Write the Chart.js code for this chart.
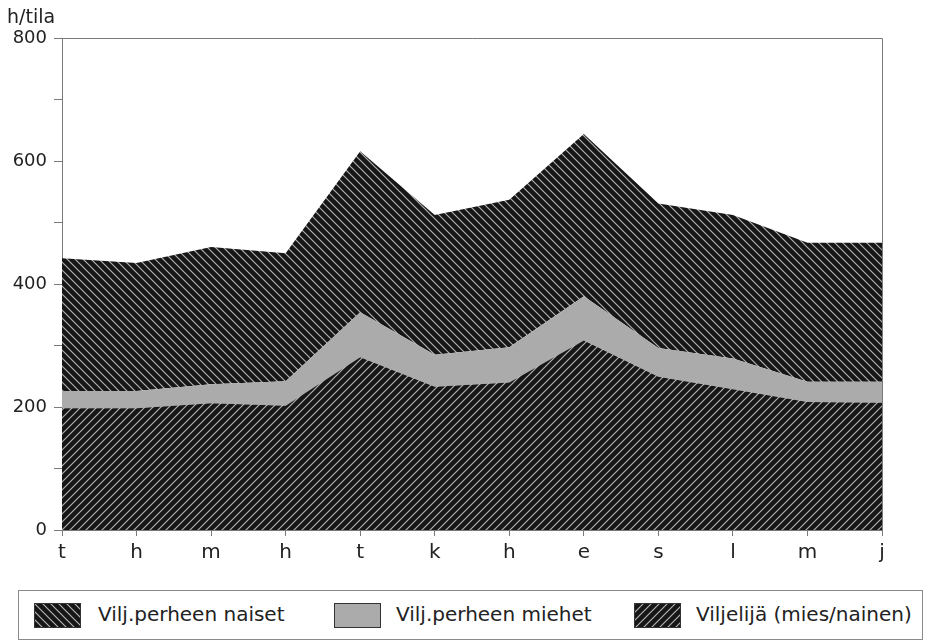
<!DOCTYPE html>
<html>
<head>
<meta charset="utf-8">
<script src="https://cdn.jsdelivr.net/npm/chart.js"></script>
<style>
  html, body { margin: 0; padding: 0; background: #fff; }
  body { width: 931px; height: 641px; position: relative; overflow: hidden; font-family: "DejaVu Sans", sans-serif; }
  .chartBox { position: absolute; left: 0; top: 0; width: 931px; height: 585px; }
  .legend { position: absolute; left: 18px; top: 590px; width: 903px; height: 48px; border: 1px solid #8a8a8a; }
  .swatch { position: absolute; top: 12px; width: 45px; height: 23px; border: 1px solid #333; }
  .label { position: absolute; top: 11px; font-size: 20px; color: #222; white-space: nowrap; }
</style>
</head>
<body>
<div class="chartBox"><canvas id="areaChart" width="931" height="585"></canvas></div>
<div class="legend">
  <div class="swatch" id="sw0" style="left:15px"></div><div class="label" style="left:79px">Vilj.perheen naiset</div>
  <div class="swatch" id="sw1" style="left:315px"></div><div class="label" style="left:377px">Vilj.perheen miehet</div>
  <div class="swatch" id="sw2" style="left:615px"></div><div class="label" style="left:677px">Viljelijä (mies/nainen)</div>
</div>
<script>
const categories = ['t', 'h', 'm', 'h', 't', 'k', 'h', 'e', 's', 'l', 'm', 'j'];
// tunnit per tila, pinottuna alhaalta ylös
const viljelija = [198, 198, 206, 202, 281, 233, 240, 308, 249, 229, 208, 207];
const miehet = [28, 28, 31, 40, 73, 52, 57, 72, 47, 50, 33, 34];
const naiset = [216, 208, 223, 208, 262, 227, 240, 264, 235, 233, 226, 226];
const yMax = 800;
const yStep = 100;
const yLabelEvery = 200;

const GREY = '#ababab';
const AXIS = '#7a7a7a';

// viivoitus kuvioksi
function hatchCanvas(dir) {
  const s = 8;
  const c = document.createElement('canvas');
  c.width = s; c.height = s;
  const g = c.getContext('2d');
  g.fillStyle = '#161616';
  g.fillRect(0, 0, s, s);
  g.strokeStyle = '#b2b2b2';
  g.lineWidth = 1.2;
  g.beginPath();
  if (dir === '/') {
    g.moveTo(0, s); g.lineTo(s, 0);
    g.moveTo(-2, 2); g.lineTo(2, -2);
    g.moveTo(s - 2, s + 2); g.lineTo(s + 2, s - 2);
  } else {
    g.moveTo(0, 0); g.lineTo(s, s);
    g.moveTo(-2, s - 2); g.lineTo(2, s + 2);
    g.moveTo(s - 2, -2); g.lineTo(s + 2, 2);
  }
  g.stroke();
  return c;
}

const canvas = document.getElementById('areaChart');
const ctx = canvas.getContext('2d');
const backCanvas = hatchCanvas('\\');
const fwdCanvas = hatchCanvas('/');
const backHatch = ctx.createPattern(backCanvas, 'repeat');
const fwdHatch = ctx.createPattern(fwdCanvas, 'repeat');

document.getElementById('sw0').style.background = 'url(' + backCanvas.toDataURL() + ')';
document.getElementById('sw1').style.background = GREY;
document.getElementById('sw2').style.background = 'url(' + fwdCanvas.toDataURL() + ')';

const frame = {
  id: 'frame',
  afterDraw(chart) {
    const a = chart.chartArea;
    const c = chart.ctx;
    c.save();
    c.strokeStyle = AXIS;
    c.lineWidth = 1;
    c.beginPath();
    c.moveTo(a.left, a.top + 0.5); c.lineTo(a.right + 0.5, a.top + 0.5);
    c.lineTo(a.right + 0.5, a.bottom);
    c.stroke();
    c.fillStyle = '#222';
    c.font = '19px "DejaVu Sans"';
    c.textBaseline = 'alphabetic';
    c.fillText('h/tila', 7, 23);
    c.restore();
  },
};

new Chart(canvas, {
  type: 'line',
  data: {
    labels: categories,
    datasets: [
      { label: 'Viljelijä (mies/nainen)', data: viljelija, backgroundColor: fwdHatch, fill: 'origin' },
      { label: 'Vilj.perheen miehet', data: miehet, backgroundColor: GREY, fill: '-1' },
      { label: 'Vilj.perheen naiset', data: naiset, backgroundColor: backHatch, fill: '-1' },
    ],
  },
  options: {
    responsive: false,
    animation: false,
    devicePixelRatio: 1,
    layout: { padding: { top: 38, right: 49, left: 0, bottom: 0 } },
    elements: {
      line: { borderWidth: 0, tension: 0 },
      point: { radius: 0 },
    },
    scales: {
      x: {
        offset: false,
        grid: { drawOnChartArea: false, drawTicks: true, tickLength: 6, color: AXIS },
        border: { display: true, color: AXIS },
        ticks: { color: '#222', font: { family: 'DejaVu Sans', size: 20 }, padding: 5, maxRotation: 0, autoSkip: false },
        afterFit: (scale) => { scale.height = 55; },
      },
      y: {
        stacked: true,
        min: 0,
        max: yMax,
        grid: { drawOnChartArea: false, drawTicks: true, tickLength: 8, color: AXIS },
        border: { display: true, color: AXIS },
        ticks: {
          stepSize: yStep,
          color: '#222',
          font: { family: 'DejaVu Sans', size: 18 },
          padding: 7,
          callback: (v) => (v % yLabelEvery === 0 ? v : ''),
        },
        afterFit: (scale) => { scale.width = 62; },
      },
    },
    plugins: {
      legend: { display: false },
      tooltip: { enabled: false },
    },
  },
  plugins: [frame],
});
</script>
</body>
</html>
